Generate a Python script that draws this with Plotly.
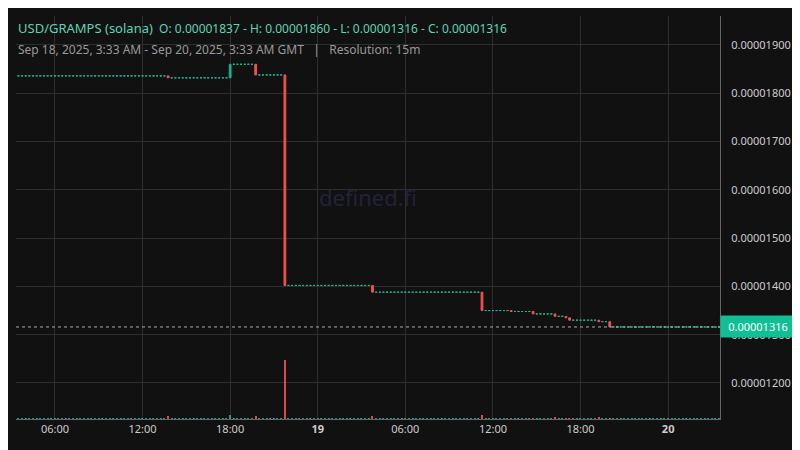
import plotly.graph_objects as go
import pandas as pd

# price level changes (time, new close)
change_times = ["2025-09-18 13:45", "2025-09-18 18:00", "2025-09-18 19:45", "2025-09-18 21:45",
                "2025-09-19 03:45", "2025-09-19 11:15", "2025-09-19 13:15", "2025-09-19 14:45",
                "2025-09-19 16:15", "2025-09-19 17:00", "2025-09-19 17:15", "2025-09-19 19:15",
                "2025-09-19 20:00"]
change_levels = [1.832e-5, 1.860e-5, 1.838e-5, 1.402e-5, 1.388e-5, 1.350e-5, 1.348e-5, 1.343e-5,
                 1.338e-5, 1.335e-5, 1.330e-5, 1.327e-5, 1.316e-5]
change_volumes = [3, 4, 3, 60, 3, 4, 1, 1, 2, 1, 1, 2, 1]
start_level = 1.836e-5
base_volume = 0.6
last_price = 1.316e-5

times = pd.date_range("2025-09-18 03:30", "2025-09-20 03:30", freq="15min")
ct = pd.to_datetime(change_times)
o, h, l, c, v, vc = [], [], [], [], [], []
level = start_level
for t in times:
    op = level
    vol = base_volume
    for i, tt in enumerate(ct):
        if tt == t:
            level = change_levels[i]
            vol = change_volumes[i]
    cl = level if level != op else op * (1 + 1e-9)  # flat candle drawn as "up" colour
    o.append(op); c.append(cl); h.append(max(op, cl)); l.append(min(op, cl)); v.append(vol)
    vc.append("#ef5350" if level < op else "#26a69a")

fig = go.Figure()
fig.add_trace(go.Candlestick(x=times, open=o, high=h, low=l, close=c,
                             increasing=dict(line=dict(color="#1fb08f", width=1), fillcolor="#1fb08f"),
                             decreasing=dict(line=dict(color="#ef5350", width=1), fillcolor="#ef5350"),
                             whiskerwidth=0, showlegend=False))
fig.add_trace(go.Bar(x=times, y=v, marker=dict(color=vc, line=dict(width=0)), yaxis="y2",
                     width=15 * 60 * 1000 * 0.35, showlegend=False, opacity=0.9))

tickvals = pd.to_datetime(["2025-09-18 06:00", "2025-09-18 12:00", "2025-09-18 18:00", "2025-09-19 00:00",
                           "2025-09-19 06:00", "2025-09-19 12:00", "2025-09-19 18:00", "2025-09-20 00:00"])
ticktext = ["06:00", "12:00", "18:00", "<b>19</b>", "06:00", "12:00", "18:00", "<b>20</b>"]

fig.add_hline(y=last_price, line=dict(color="#aaaaaa", width=1, dash="dot"))
fig.update_layout(
    width=800, height=450, paper_bgcolor="#111111", plot_bgcolor="#111111",
    margin=dict(l=8, r=88, t=8, b=39, autoexpand=False),
    font=dict(family="Noto Sans", color="#cccccc", size=11),
    xaxis=dict(range=["2025-09-18 03:20", "2025-09-20 03:33"], tickvals=tickvals, ticktext=ticktext,
               showgrid=True, gridcolor="#2e2e2e", rangeslider=dict(visible=False),
               showline=True, linecolor="#666666", ticks="", zeroline=False),
    yaxis=dict(side="right", range=[1.1254e-5, 1.96e-5], tickvals=[1.2e-5, 1.3e-5, 1.4e-5, 1.5e-5, 1.6e-5, 1.7e-5, 1.8e-5, 1.9e-5],
               ticktext=["0.00001200", "0.00001300", "0.00001400", "0.00001500", "0.00001600", "0.00001700", "0.00001800", "0.00001900"],
               gridcolor="#2e2e2e", showline=True, linecolor="#666666", ticks="", zeroline=False, ticklabelstandoff=8),
    yaxis2=dict(overlaying="y", range=[0, 410], visible=False),
    bargap=0,
)
fig.add_annotation(xref="paper", yref="paper", x=0.5, y=0.55, text="defined.fi", showarrow=False,
                   font=dict(size=22, color="#22223a"))
fig.add_annotation(xref="paper", yref="paper", x=0.0, xanchor="left", y=1.0, yanchor="middle", yshift=-12, xshift=0,
                   text='<span style="font-size:13px">USD/GRAMPS (solana)</span>  O: 0.00001837 - H: 0.00001860 - L: 0.00001316 - C: 0.00001316',
                   showarrow=False, font=dict(size=12, color="#5fd3b3"), align="left")
fig.add_annotation(xref="paper", yref="paper", x=0.0, xanchor="left", y=1.0, yanchor="middle", yshift=-33, xshift=0,
                   text="Sep 18, 2025, 3:33 AM - Sep 20, 2025, 3:33 AM GMT   |   Resolution: 15m",
                   showarrow=False, font=dict(size=12, color="#999999"), align="left")
fig.add_annotation(xref="paper", yref="y", x=1.0, xanchor="left", y=last_price, text="0.00001316",
                   showarrow=False, bgcolor="#10c095", font=dict(size=11, color="#ffffff"),
                   borderpad=3, width=68)
fig.write_html("out.html")
